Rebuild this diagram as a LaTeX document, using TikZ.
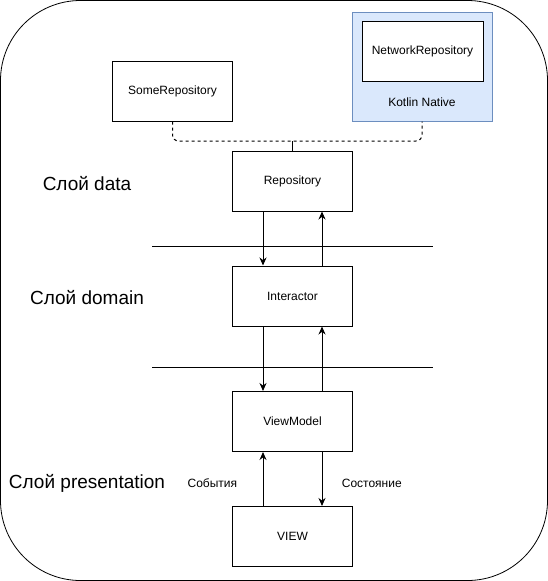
\documentclass[tikz,border=0pt]{standalone}
\usepackage{fontspec}
\setmainfont{Liberation Sans}
\usetikzlibrary{arrows.meta,positioning}
\definecolor{kotlinfill}{HTML}{DAE8FC}
\definecolor{kotlinline}{HTML}{6C8EBF}
\newcommand{\boxfont}{\fontsize{12}{14}\selectfont}
\newcommand{\layerfont}{\fontsize{19}{22}\selectfont}

\begin{document}
\begin{tikzpicture}[x=1pt, y=-1pt,
    box/.style={draw, line width=1pt, minimum width=120pt, minimum height=60pt, inner sep=0pt, font=\boxfont},
    arr/.style={line width=1pt, -{Stealth[length=8pt,width=7pt]}}]
    \useasboundingbox (0,0) rectangle (548,581);
    %outer frame
    \draw[line width=0.8pt, rounded corners=80pt] (0.5,0.5) rectangle (547.5,580.5);

    %main boxes
        \foreach \name/\txt/\y in {repo/Repository/181, inter/Interactor/296, vm/ViewModel/421.5, view/VIEW/536.5} {
            \node[box] (\name) at (292.5,\y) {\txt};
        }
        \node[box] (some) at (172.5,91) {SomeRepository};
        \node[box, fill=kotlinfill, draw=kotlinline, minimum width=140pt, minimum height=109pt] (kotlin) at (422,66.5) {};
        \node[box, fill=white, minimum width=121pt] (net) at (422.5,51) {NetworkRepository};
        \node[font=\boxfont] (native) at (422,102) {Kotlin Native};

    %dashed links
        \coordinate (join) at (292.5,141);
        \draw[line width=1pt, dash pattern=on 3pt off 3pt, rounded corners=6pt] (some.south) |- (join) -| (kotlin.south);
        \draw[line width=1pt] (join) -- (repo.north);

    %arrows between layers
        \foreach \a/\b in {repo/inter, inter/vm} {
            \draw[arr] ([xshift=-29.5pt]\a.south) -- ([xshift=-29.5pt]\b.north);
            \draw[arr] ([xshift=29.5pt]\b.north) -- ([xshift=29.5pt]\a.south);
        }
        \draw[arr] ([xshift=-29.5pt]view.north) -- node[left=22pt, yshift=-4pt, font=\boxfont] (events) {События} ([xshift=-29.5pt]vm.south);
        \draw[arr] ([xshift=29.5pt]vm.south) -- node[right=16pt, yshift=-4pt, font=\boxfont] (state) {Состояние} ([xshift=29.5pt]view.north);

    %separators
        \foreach \i/\y in {1/246, 2/367} {
            \coordinate (sepl\i) at (152,\y);
            \coordinate (sepr\i) at (433,\y);
            \draw[line width=1pt] (sepl\i) -- (sepr\i);
        }

    %layer names
        \foreach \name/\txt/\y in {ldata/Слой data/184, ldomain/Слой domain/298, lpres/Слой presentation/483} {
            \node[font=\layerfont] (\name) at (87,\y) {\txt};
        }
\end{tikzpicture}
\end{document}
